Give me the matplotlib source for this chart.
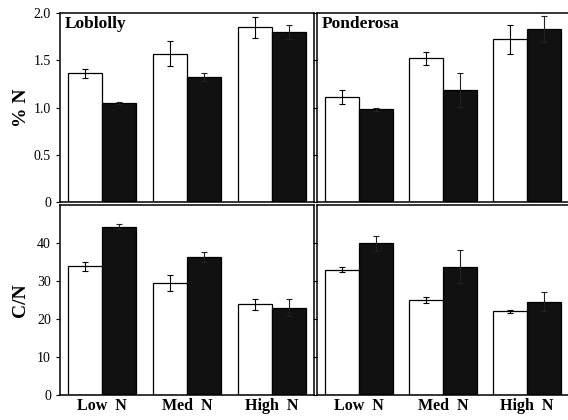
import numpy as np
import matplotlib.pyplot as plt

plt.rcParams['font.family'] = ['Liberation Serif', 'DejaVu Serif']

# Données
groups = ["Low  N", "Med  N", "High  N"]
species = ["Loblolly", "Ponderosa"]

# %N : barres blanches / noires, avec erreurs
lob_n_white = [1.36, 1.57, 1.85]
lob_n_white_err = [0.05, 0.13, 0.11]
lob_n_black = [1.05, 1.32, 1.80]
lob_n_black_err = [0.01, 0.04, 0.07]

pon_n_white = [1.11, 1.52, 1.72]
pon_n_white_err = [0.07, 0.065, 0.15]
pon_n_black = [0.98, 1.19, 1.83]
pon_n_black_err = [0.02, 0.18, 0.14]

# C/N
lob_cn_white = [33.9, 29.5, 23.9]
lob_cn_white_err = [1.2, 2.2, 1.4]
lob_cn_black = [44.3, 36.4, 23.0]
lob_cn_black_err = [0.6, 1.3, 2.3]

pon_cn_white = [33.0, 25.1, 22.0]
pon_cn_white_err = [0.6, 0.8, 0.3]
pon_cn_black = [39.9, 33.8, 24.6]
pon_cn_black_err = [1.9, 4.4, 2.5]

W, H = 568, 420
fig = plt.figure(figsize=(W / 100, H / 100), dpi=100)


def box(x0, x1, ytop, ybot):
    return [x0 / W, 1 - ybot / H, (x1 - x0) / W, (ybot - ytop) / H]


ax_tl = fig.add_axes(box(60, 314, 13, 202))
ax_tr = fig.add_axes(box(317, 569, 13, 202))
ax_bl = fig.add_axes(box(60, 314, 205, 395))
ax_br = fig.add_axes(box(317, 569, 205, 395))

x = np.arange(len(groups))
bw = 0.4


def draw(ax, white, werr, black, berr):
    ax.bar(x - bw / 2, white, bw, color='white', edgecolor='black', lw=0.9)
    ax.bar(x + bw / 2, black, bw, color='#111111', edgecolor='black', lw=0.9)
    ax.errorbar(x - bw / 2, white, yerr=werr, fmt='none', ecolor='black',
                elinewidth=0.8, capsize=2.5, capthick=0.8)
    ax.errorbar(x + bw / 2, black, yerr=berr, fmt='none', ecolor='#222222',
                elinewidth=0.8, capsize=2.5, capthick=0.8)
    ax.set_xlim(-0.5, 2.5)
    ax.set_xticks([])
    for s in ax.spines.values():
        s.set_linewidth(1.1)
    ax.tick_params(axis='y', labelsize=10, length=3, width=0.8)


draw(ax_tl, lob_n_white, lob_n_white_err, lob_n_black, lob_n_black_err)
draw(ax_tr, pon_n_white, pon_n_white_err, pon_n_black, pon_n_black_err)
draw(ax_bl, lob_cn_white, lob_cn_white_err, lob_cn_black, lob_cn_black_err)
draw(ax_br, pon_cn_white, pon_cn_white_err, pon_cn_black, pon_cn_black_err)

for ax in (ax_tl, ax_tr):
    ax.set_ylim(0, 2.0)
    ax.set_yticks([0, 0.5, 1.0, 1.5, 2.0])
for ax in (ax_bl, ax_br):
    ax.set_ylim(0, 50)
    ax.set_yticks([0, 10, 20, 30, 40])

ax_tl.set_yticklabels(["0", "0.5", "1.0", "1.5", "2.0"])
for ax in (ax_tr, ax_br):
    ax.tick_params(axis='y', labelleft=False, right=True, direction='out')

ax_tl.set_ylabel("% N", fontsize=14, fontweight='bold', labelpad=3)
ax_bl.set_ylabel("C/N", fontsize=14, fontweight='bold', labelpad=6)

ax_tl.text(0.02, 0.985, species[0], transform=ax_tl.transAxes, ha='left',
           va='top', fontsize=12.5, fontweight='bold')
ax_tr.text(0.02, 0.985, species[1], transform=ax_tr.transAxes, ha='left',
           va='top', fontsize=12.5, fontweight='bold')

for ax in (ax_bl, ax_br):
    ax.set_xticks(x)
    ax.set_xticklabels(groups, fontsize=11.5, fontweight='bold')
    ax.tick_params(axis='x', length=0, pad=2)

plt.savefig("out.png", dpi=100)
